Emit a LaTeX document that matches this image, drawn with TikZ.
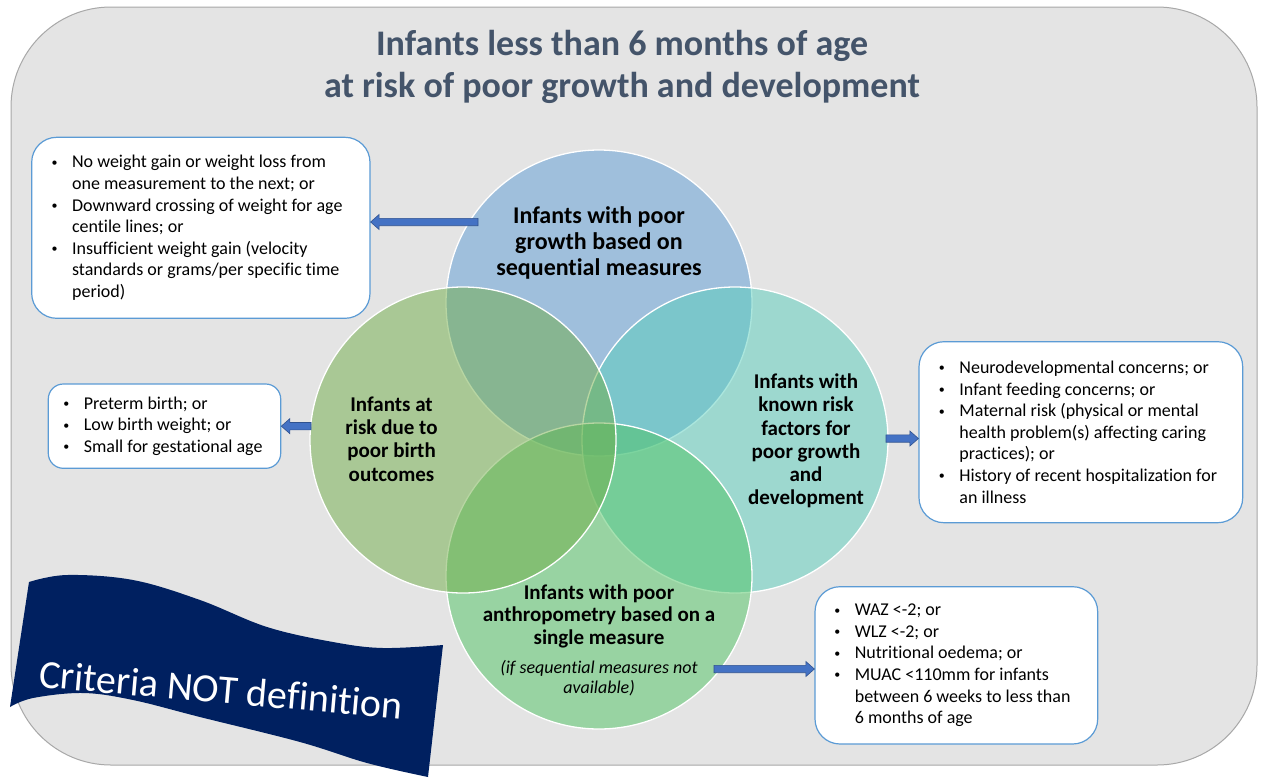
\documentclass[tikz,border=0pt]{standalone}
\usepackage{fontspec}
\setmainfont{Carlito}[Ligatures={CommonOff,ContextualOff}]
\usetikzlibrary{calc}
\definecolor{bgfill}{HTML}{E4E4E4}
\definecolor{bgdraw}{HTML}{A8A8A8}
\definecolor{titlec}{HTML}{44546A}
\definecolor{cblue}{HTML}{5B9BD5}
\definecolor{cgreen}{HTML}{70AD47}
\definecolor{cteal}{HTML}{58CEBC}
\definecolor{cmint}{HTML}{4EC462}
\definecolor{boxline}{HTML}{5B9BD5}
\definecolor{arrfill}{HTML}{4472C4}
\definecolor{arrdraw}{HTML}{2F528F}
\definecolor{navy}{HTML}{002060}
\newcommand{\bul}{\makebox[0pt][c]{\raisebox{1.6pt}{\fontsize{12}{12}\selectfont\textbullet}}\hspace*{17.5pt}}
\newcommand{\ind}{\hspace*{17.5pt}}
\begin{document}
\begin{tikzpicture}[x=1pt,y=-1pt,
  panel/.style={fill=bgfill, draw=bgdraw, line width=1pt, rounded corners=100pt},
  venn/.style={circle, minimum size=306pt, inner sep=0pt, fill=#1, fill opacity=0.5, draw=white, line width=1.3pt},
  listbox/.style={draw=boxline, line width=1.2pt, fill=white, rounded corners=#1, inner sep=0pt},
  listtext/.style={anchor=west, align=left, inner sep=0pt, font=\fontsize{18}{21.6}\selectfont},
  vlabel/.style={align=center, inner sep=0pt, font=\bfseries\fontsize{21}{23.2}\selectfont},
  blockarr/.style={fill=arrfill, draw=arrdraw, line width=0.6pt,
    to path={let \p1=(\tikztostart), \p2=(\tikztotarget), \p3=($(\p2)!8.5pt!(\p1)$) in
      ($(\p1)!3.7pt!90:(\p2)$) -- ($(\p3)!3.7pt!-90:(\p1)$) -- ($(\p3)!7.5pt!-90:(\p1)$) -- (\p2)
      -- ($(\p3)!7.5pt!90:(\p1)$) -- ($(\p3)!3.7pt!90:(\p1)$) -- ($(\p1)!3.7pt!-90:(\p2)$) -- cycle}}
]
\useasboundingbox (0,0) rectangle (1263,777);
\fill[white] (0,0) rectangle (1263,777);
\draw[panel] (11,7) rectangle (1257,765);

% title
\node[align=center, inner sep=0pt, text=titlec, font=\bfseries\fontsize{36}{42}\selectfont] (title) at (622,67)
  {Infants less than 6 months of age\\at risk of poor growth and development};

% Venn circles
\node[venn=cblue] (ctop) at (599,303) {};
\node[venn=cteal] (cright) at (735,440) {};
\node[venn=cmint] (cbottom) at (599,576) {};
\node[venn=cgreen] (cleft) at (463,440) {};

% circle labels
\node[vlabel, font=\bfseries\fontsize{24}{26}\selectfont] (ltop) at (599,242.5)
  {Infants with poor\\growth based on\\sequential measures};
\node[vlabel] (lleft) at (391.5,439) {Infants at\\risk due to\\poor birth\\outcomes};
\node[vlabel] (lright) at (806,441) {Infants with\\known risk\\factors for\\poor growth\\and\\development};
\node[vlabel, font=\bfseries\fontsize{21}{22.5}\selectfont] (lbottom) at (599,616)
  {Infants with poor\\anthropometry based on a\\single measure};
\node[align=center, inner sep=0pt, font=\itshape\fontsize{18}{20}\selectfont] (lnote) at (599,678)
  {(if sequential measures not\\available)};

% list boxes
\node[listbox=25pt, minimum width=338.3pt, minimum height=181pt] (box1) at (200.85,227.8) {};
\node[listbox=15pt, minimum width=232.4pt, minimum height=84.3pt] (box2) at (164.5,426.15) {};
\node[listbox=25pt, minimum width=323.7pt, minimum height=181pt] (box3) at (1080.85,432.2) {};
\node[listbox=25pt, minimum width=282.7pt, minimum height=157.3pt] (box4) at (956.35,665.35) {};

\node[listtext] (t1) at ($(box1.west)+(23.3,0)$) {%
\bul No weight gain or weight loss from\\
\ind one measurement to the next; or\\
\bul Downward crossing of weight for age\\
\ind centile lines; or\\
\bul Insufficient weight gain (velocity\\
\ind standards or grams/per specific time\\
\ind period)};
\node[listtext] (t2) at ($(box2.west)+(18.4,0)$) {%
\bul Preterm birth; or\\
\bul Low birth weight; or\\
\bul Small for gestational age};
\node[listtext] (t3) at ($(box3.west)+(23.3,0)$) {%
\bul Neurodevelopmental concerns; or\\
\bul Infant feeding concerns; or\\
\bul Maternal risk (physical or mental\\
\ind health problem(s) affecting caring\\
\ind practices); or\\
\bul History of recent hospitalization for\\
\ind an illness};
\node[listtext] (t4) at ($(box4.west)+(22.7,0)$) {%
\bul WAZ <-2; or\\
\bul WLZ <-2; or\\
\bul Nutritional oedema; or\\
\bul MUAC <110mm for infants\\
\ind between 6 weeks to less than\\
\ind 6 months of age};

% block arrows
\coordinate (a1) at (478,222);
\coordinate (a2) at (311,426.15);
\coordinate (a3) at (886,438.5);
\coordinate (a4) at (714,669);
\draw[blockarr] (a1) to (a1 -| box1.east);
\draw[blockarr] (a2) to (box2.east);
\draw[blockarr] (a3) to (a3 -| box3.west);
\draw[blockarr] (a4) to (a4 -| box4.west);

% banner
\fill[navy] plot[smooth, tension=0.6] coordinates {(29,582) (67,575) (133,580) (200,600) (267,627) (333,642) (383,648) (443,645)}
  -- plot[smooth, tension=0.6] coordinates {(428,777) (367,763) (300,742) (200,717) (133,700) (83,693) (33,698) (10,707)} -- cycle;
\node[inner sep=0pt, text=white, font=\fontsize{40}{48}\selectfont, rotate=-5, anchor=base] (bannertext) at (220,703)
  {Criteria NOT definition};
\end{tikzpicture}
\end{document}
